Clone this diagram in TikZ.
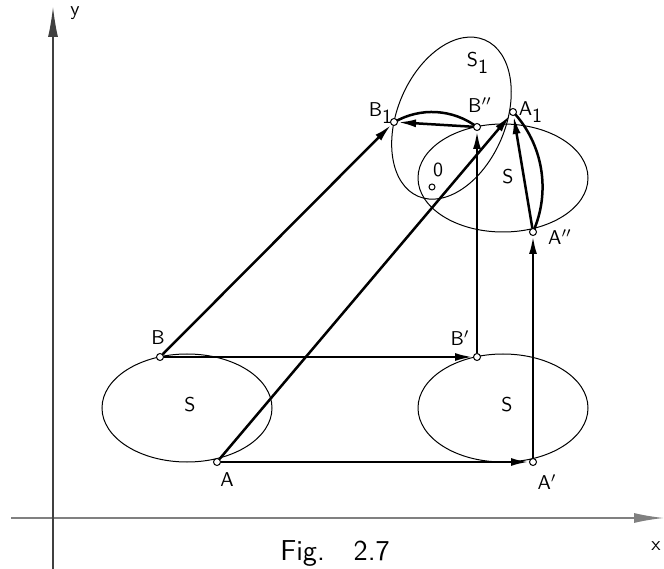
\documentclass[tikz,border=0pt]{standalone}
\usetikzlibrary{arrows.meta}
\pgfdeclarelayer{bg}
\pgfsetlayers{bg,main}

\begin{document}
\begin{tikzpicture}[x=0.5pt, y=0.5pt, font=\sffamily,
	pt/.style={circle, draw, fill=white, inner sep=0pt, minimum size=3.5pt, line width=0.5pt},
	mv/.style={-{Latex[length=9pt, width=4pt]}, line width=1.25pt},
	axis/.style={-{Latex[length=15pt, width=5pt]}}]
	\useasboundingbox (0, 0) rectangle (664, 568);
	% points
	\node [pt] (A) at (217, 106) {};
	\node [pt] (B) at (160, 211) {};
	\node [pt] (Ap) at (533, 106) {};
	\node [pt] (Bp) at (477, 211) {};
	\node [pt] (App) at (533, 336) {};
	\node [pt] (Bpp) at (477, 441) {};
	\node [pt] (Aone) at (513, 456) {};
	\node [pt] (Bone) at (394, 446) {};
	\node [pt, minimum size=3pt] (O) at (432, 381) {};
	\begin{pgfonlayer}{bg}
		% axes
		\coordinate (xs) at (11, 50);
		\coordinate (xe) at (664, 50);
		\coordinate (ys) at (53, -10);
		\coordinate (ye) at (53, 561);
		\draw [axis, gray, line width=0.8pt] (xs) -- (xe);
		\draw [axis, black!75, line width=0.6pt] (ys) -- (ye);
		% the figure S and its images
		\draw [line width=0.5pt] (187, 160) ellipse [x radius=42.5pt, y radius=27pt];
		\draw [line width=0.5pt] (503, 160) ellipse [x radius=42.5pt, y radius=27pt];
		\draw [line width=0.5pt] (503, 390) ellipse [x radius=42.5pt, y radius=27pt];
		\draw [line width=0.5pt, rotate around={67:(O)}] (503, 390) ellipse [x radius=42.5pt, y radius=27pt];
		% rotation arcs
		\draw [line width=1.25pt] (Bpp.center) arc [start angle=53.1, end angle=120.1, radius=37.5pt];
		\draw [line width=1.25pt] (App.center) arc [start angle=-24, end angle=43, radius=55.3pt];
	\end{pgfonlayer}
	% displacements
	\draw [mv] (A) -- (Ap);
	\draw [mv] (B) -- (Bp);
	\draw [mv] (A) -- (Aone);
	\draw [mv] (B) -- (Bone);
	\draw [mv] (Ap) -- (App);
	\draw [mv] (Bp) -- (Bpp);
	\draw [mv] (App) -- (Aone);
	\draw [mv] (Bpp) -- (Bone);
	% labels
	\node (xl) at (656, 22) {x};
	\node (yl) at (75, 555) {y};
	\node (lA) at (227, 88) {A};
	\node (lB) at (158, 230) {B};
	\node (lAp) at (547, 86) {A$'$};
	\node (lBp) at (460, 230) {B$'$};
	\node (lApp) at (560, 331) {A$''$};
	\node (lBpp) at (480, 463) {B$''$};
	\node (lAone) at (531, 456) {A$_{\textsf{1}}$};
	\node (lBone) at (381, 455) {B$_{\textsf{1}}$};
	\node (lO) at (438, 398) {0};
	\node (lSone) at (478, 505) {S$_{\textsf{1}}$};
	\node (lSa) at (190, 163) {S};
	\node (lSb) at (507, 163) {S};
	\node (lSc) at (508, 391) {S};
	\node [anchor=north, inner sep=0pt, font=\sffamily\Large] (cap) at (335, 28) {Fig.\quad 2.7};
\end{tikzpicture}
\end{document}
